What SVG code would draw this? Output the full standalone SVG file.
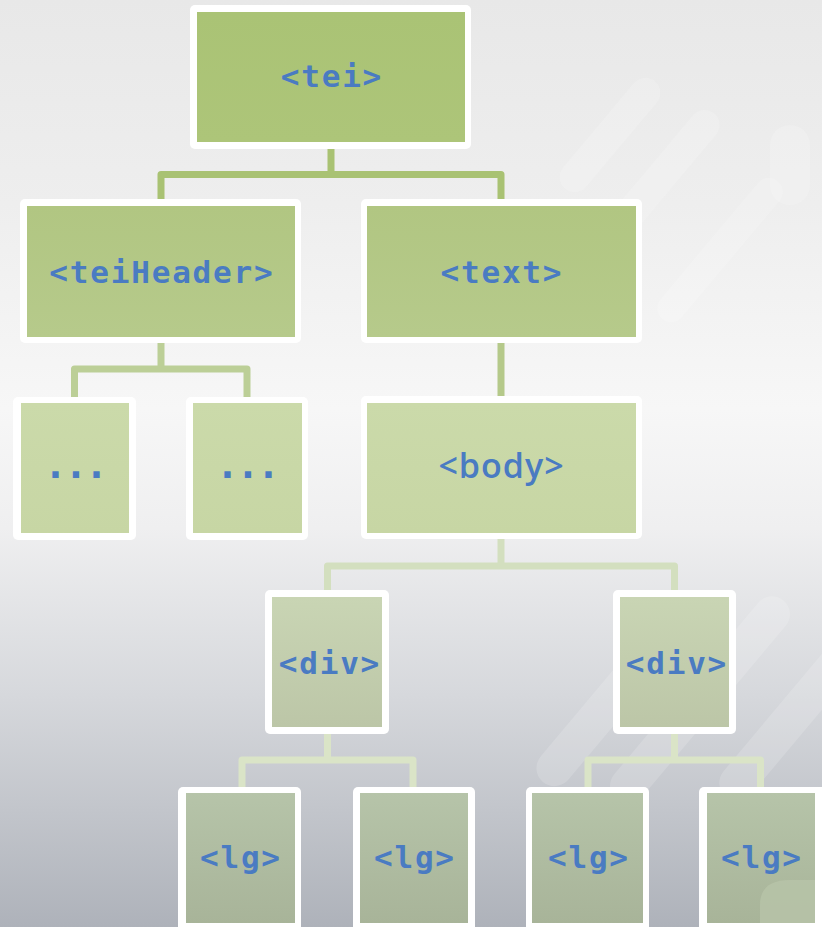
<svg xmlns="http://www.w3.org/2000/svg" width="822" height="927" viewBox="0 0 822 927">
  <defs>
    <linearGradient id="bg" x1="0" y1="0" x2="0" y2="1">
      <stop offset="0" stop-color="#e8e8e8"/>
      <stop offset="0.22" stop-color="#eeeeee"/>
      <stop offset="0.44" stop-color="#f7f7f7"/>
      <stop offset="0.57" stop-color="#efeff0"/>
      <stop offset="0.75" stop-color="#d6d8dc"/>
      <stop offset="1" stop-color="#aeb2ba"/>
    </linearGradient>
    <linearGradient id="g1" x1="0" y1="0" x2="0" y2="1">
      <stop offset="0" stop-color="#aac375"/>
      <stop offset="1" stop-color="#adc579"/>
    </linearGradient>
    <linearGradient id="g2" x1="0" y1="0" x2="0" y2="1">
      <stop offset="0" stop-color="#b1c682"/>
      <stop offset="1" stop-color="#b6ca8b"/>
    </linearGradient>
    <linearGradient id="g3" x1="0" y1="0" x2="0" y2="1">
      <stop offset="0" stop-color="#cbdaaa"/>
      <stop offset="1" stop-color="#c7d6a4"/>
    </linearGradient>
    <linearGradient id="g4" x1="0" y1="0" x2="0" y2="1">
      <stop offset="0" stop-color="#c9d5b4"/>
      <stop offset="1" stop-color="#bcc6a7"/>
    </linearGradient>
    <linearGradient id="g5" x1="0" y1="0" x2="0" y2="1">
      <stop offset="0" stop-color="#b6c4a9"/>
      <stop offset="1" stop-color="#a8b499"/>
    </linearGradient>
  </defs>
  <style>
    .frame { fill: #ffffff; }
    .l1 { fill: url(#g1); }
    .l2 { fill: url(#g2); }
    .l3 { fill: url(#g3); }
    .l4 { fill: url(#g4); }
    .l5 { fill: url(#g5); }
    .mono { font-family: "DejaVu Sans Mono", "Liberation Mono", monospace; font-weight: bold; font-size: 31px; letter-spacing: 1.8px; fill: #4a7bc2; text-anchor: middle; }
    .dots { font-family: "DejaVu Sans Mono", "Liberation Mono", monospace; font-weight: bold; font-size: 38px; letter-spacing: -2.4px; fill: #4a7bc2; text-anchor: middle; }
    .sans { font-family: "Open Sans", "Liberation Sans", sans-serif; font-weight: 600; font-size: 34px; letter-spacing: 1px; fill: #4a7bc2; text-anchor: middle; }
    .wire { fill: none; stroke-width: 7; stroke-linejoin: round; }
    .wm { fill: #ffffff; opacity: 0.16; }
  </style>

  <!-- backdrop -->
  <rect x="0" y="0" width="822" height="927" fill="url(#bg)"/>

  <!-- faint watermark bands on the right -->
  <g id="watermark">
    <rect class="wm" x="-15" y="-70" width="30" height="140" rx="15" transform="translate(610 135) rotate(40)"/>
    <rect class="wm" x="-15" y="-100" width="30" height="200" rx="15" transform="translate(650 190) rotate(40)"/>
    <rect class="wm" x="-14" y="-90" width="28" height="180" rx="14" transform="translate(720 250) rotate(40)"/>
    <rect class="wm" x="-20" y="-40" width="40" height="80" rx="20" transform="translate(790 165)"/>
    <rect class="wm" x="-18" y="-120" width="36" height="240" rx="18" transform="translate(620 690) rotate(40)"/>
    <rect class="wm" x="-18" y="-130" width="36" height="260" rx="18" transform="translate(700 700) rotate(40)"/>
    <rect class="wm" x="-18" y="-100" width="36" height="200" rx="18" transform="translate(790 720) rotate(40)"/>
  </g>

  <!-- connectors -->
  <g id="connectors">
    <path class="wire" stroke="#a9c273" d="M331 149 V174.5 M161 200 V174.5 H501 V200"/>
    <path class="wire" stroke="#bccf97" d="M161 343 V369 M74.5 397 V369 H247 V397"/>
    <path class="wire" stroke="#b5c98a" d="M501 343 V396"/>
    <path class="wire" stroke="#d3dfbf" d="M501 539 V566 M327.5 590 V566 H674.5 V590"/>
    <path class="wire" stroke="#dae4c7" d="M327.5 734 V760 M242 787 V760 H413 V787"/>
    <path class="wire" stroke="#dae4c7" d="M674.5 734 V760 M588 787 V760 H760.5 V787"/>
  </g>

  <!-- nodes -->
  <g id="node-tei">
    <rect class="frame" x="190" y="5" width="281" height="144" rx="5"/>
    <rect class="l1" x="197" y="12" width="268" height="130"/>
    <text class="mono" x="331.9" y="87">&lt;tei&gt;</text>
  </g>

  <g id="node-teiHeader">
    <rect class="frame" x="20" y="199" width="281" height="144" rx="5"/>
    <rect class="l2" x="27" y="206" width="268" height="131"/>
    <text class="mono" x="161.9" y="283">&lt;teiHeader&gt;</text>
  </g>

  <g id="node-text">
    <rect class="frame" x="361" y="199" width="281" height="144" rx="5"/>
    <rect class="l2" x="367" y="206" width="269" height="131"/>
    <text class="mono" x="501.9" y="283">&lt;text&gt;</text>
  </g>

  <g id="node-etc-1">
    <rect class="frame" x="13" y="397" width="123" height="143" rx="5"/>
    <rect class="l3" x="21" y="403" width="108" height="130"/>
    <text class="dots" x="74.8" y="478">...</text>
  </g>

  <g id="node-etc-2">
    <rect class="frame" x="186" y="397" width="122" height="143" rx="5"/>
    <rect class="l3" x="193" y="403" width="109" height="130"/>
    <text class="dots" x="246.8" y="478">...</text>
  </g>

  <g id="node-body">
    <rect class="frame" x="361" y="396" width="281" height="143" rx="5"/>
    <rect class="l3" x="367" y="403" width="269" height="130"/>
    <text class="sans" x="501.5" y="478">&lt;body&gt;</text>
  </g>

  <g id="node-div-1">
    <rect class="frame" x="265" y="590" width="124" height="144" rx="5"/>
    <rect class="l4" x="272" y="597" width="110" height="130"/>
    <text class="mono" x="329.9" y="674">&lt;div&gt;</text>
  </g>

  <g id="node-div-2">
    <rect class="frame" x="613" y="590" width="123" height="144" rx="5"/>
    <rect class="l4" x="620" y="597" width="109" height="130"/>
    <text class="mono" x="676.9" y="674">&lt;div&gt;</text>
  </g>

  <g id="node-lg-1">
    <rect class="frame" x="178" y="787" width="123" height="150" rx="5"/>
    <rect class="l5" x="186" y="793" width="109" height="130"/>
    <text class="mono" x="240.9" y="868">&lt;lg&gt;</text>
  </g>

  <g id="node-lg-2">
    <rect class="frame" x="353" y="787" width="122" height="150" rx="5"/>
    <rect class="l5" x="360" y="793" width="108" height="130"/>
    <text class="mono" x="414.9" y="868">&lt;lg&gt;</text>
  </g>

  <g id="node-lg-3">
    <rect class="frame" x="526" y="787" width="123" height="150" rx="5"/>
    <rect class="l5" x="532" y="793" width="111" height="130"/>
    <text class="mono" x="588.9" y="868">&lt;lg&gt;</text>
  </g>

  <g id="node-lg-4">
    <rect class="frame" x="699" y="787" width="130" height="150" rx="5"/>
    <rect class="l5" x="707" y="793" width="108" height="130"/>
    <path d="M760 923 V905 Q760 880 790 880 H815 V923 Z" fill="#b8c4a9" opacity="0.8"/>
    <text class="mono" x="761.9" y="868">&lt;lg&gt;</text>
  </g>
</svg>
